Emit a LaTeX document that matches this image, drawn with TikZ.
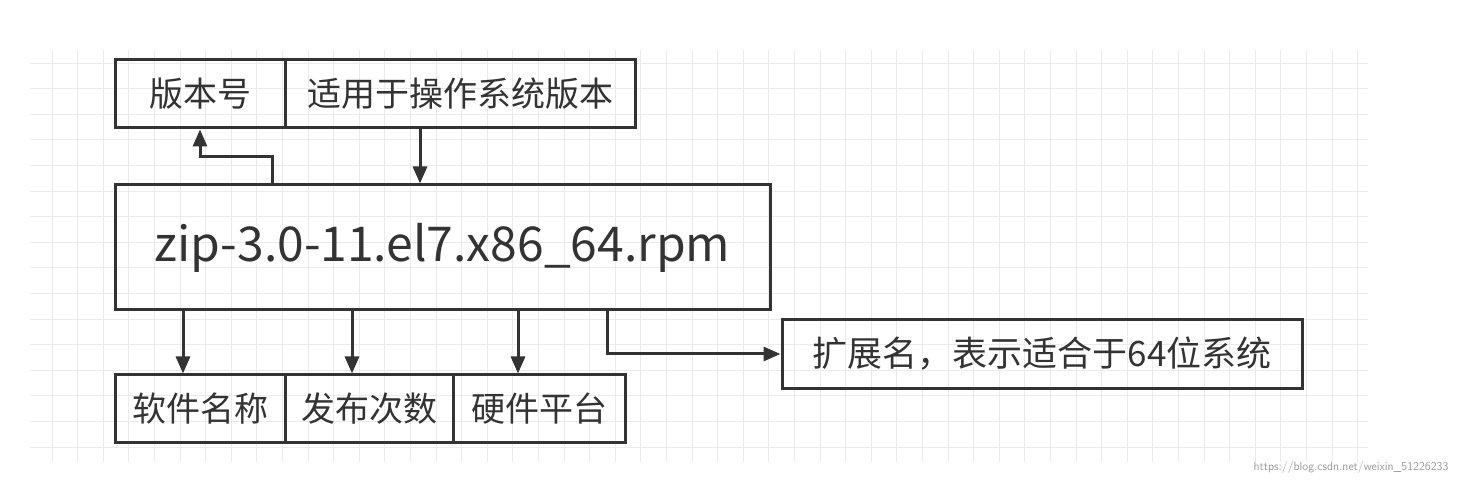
\documentclass[tikz,border=0pt]{standalone}
\usepackage{fontspec}
\setmainfont{Noto Sans CJK SC}
\usetikzlibrary{arrows.meta}
\begin{document}
\begin{tikzpicture}[x=1pt,y=-1pt,
  bx/.style={draw=black!80,line width=3pt,inner sep=0pt,font=\fontsize{34}{36}\selectfont,text=black!80},
  ar/.style={draw=black!80,line width=3pt,-{Triangle[length=17pt,width=14pt]}}]
\useasboundingbox (0,0) rectangle (1457,486);
\fill[white] (0,0) rectangle (1457,486);
\begin{scope}
\clip (30,50) rectangle (1368,462);
\foreach \i in {0,...,52} \draw[black!8,line width=0.8pt] ({52+25.6*\i-25.6},50) -- ({52+25.6*\i-25.6},462);
\foreach \j in {0,...,16} \draw[black!8,line width=0.8pt] (30,{63+25.6*\j-25.6}) -- (1368,{63+25.6*\j-25.6});
\end{scope}
\node[bx,minimum width=170pt,minimum height=68pt] (ver) at (200,94) {版本号};
\node[bx,minimum width=350pt,minimum height=68pt] (os) at (460,94) {适用于操作系统版本};
\node[bx,minimum width=655pt,minimum height=125pt,font=\fontsize{48}{52}\selectfont] (main) at (442.5,247.5) {zip-3.0-11.el7.x86\_64.rpm};
\node[bx,minimum width=170pt,minimum height=67pt] (name) at (200,408.5) {软件名称};
\node[bx,minimum width=168pt,minimum height=67pt] (rel) at (369,408.5) {发布次数};
\node[bx,minimum width=172pt,minimum height=67pt] (hw) at (539,408.5) {硬件平台};
\node[bx,minimum width=520pt,minimum height=68pt,font=\fontsize{35}{37}\selectfont] (ext) at (1042,354) {扩展名，表示适合于64位系统};
\draw[ar] (main.north -| 272,0) -- (272,157) -- (200,157) -- (ver.south);
\draw[ar] (os.south -| 420,0) -- (main.north -| 420,0);
\draw[ar] (main.south -| 183,0) -- (name.north -| 183,0);
\draw[ar] (main.south -| 352,0) -- (rel.north -| 352,0);
\draw[ar] (main.south -| 518,0) -- (hw.north -| 518,0);
\draw[ar] (main.south -| 607,0) -- (607,354) -- (ext.west);
\node[anchor=east,text=black!40,font=\fontsize{12}{14}\selectfont\sffamily] (wm) at (1452,467) {https://blog.csdn.net/weixin\_51226233};
\end{tikzpicture}
\end{document}
